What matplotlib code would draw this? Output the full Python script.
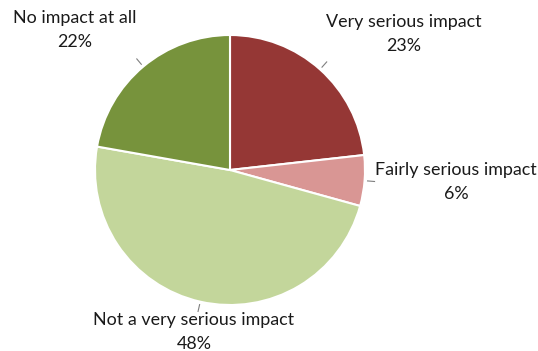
import numpy as np
import matplotlib.pyplot as plt

# Survey responses: perceived impact
labels = ['Very serious impact', 'Fairly serious impact',
          'Not a very serious impact', 'No impact at all']
shares = [23, 6, 48, 22]
colors = ['#953735', '#D99694', '#C3D69B', '#77933C']

# label block centres, in pixel space (y measured from the top)
label_pos = [(404, 34), (456, 182), (194, 332), (75, 30)]

W, H = 538, 351
cx, cy, r = 230, H - 170, 135

fig = plt.figure(figsize=(W / 100, H / 100), dpi=100)
ax = fig.add_axes([0, 0, 1, 1])

wedges, _ = ax.pie(shares, colors=colors, startangle=90, counterclock=False,
                   center=(cx, cy), radius=r, frame=True,
                   wedgeprops=dict(edgecolor='white', linewidth=1.5))
ax.set_xlim(0, W)
ax.set_ylim(0, H)
ax.set_aspect('equal')
ax.axis('off')

for w, lab, val, (lx, ly) in zip(wedges, labels, shares, label_pos):
    mid = np.deg2rad((w.theta1 + w.theta2) / 2)
    x0, y0 = cx + (r + 3) * np.cos(mid), cy + (r + 3) * np.sin(mid)
    x1, y1 = cx + (r + 10) * np.cos(mid), cy + (r + 10) * np.sin(mid)
    ax.plot([x0, x1], [y0, y1], color='#7f7f7f', lw=0.8)
    ax.text(lx, H - ly, f'{lab}\n{val}%', ha='center', va='center',
            fontsize=12.9, family='Lato', color='#1a1a1a', linespacing=1.6)

fig.savefig('out.png', dpi=100)
